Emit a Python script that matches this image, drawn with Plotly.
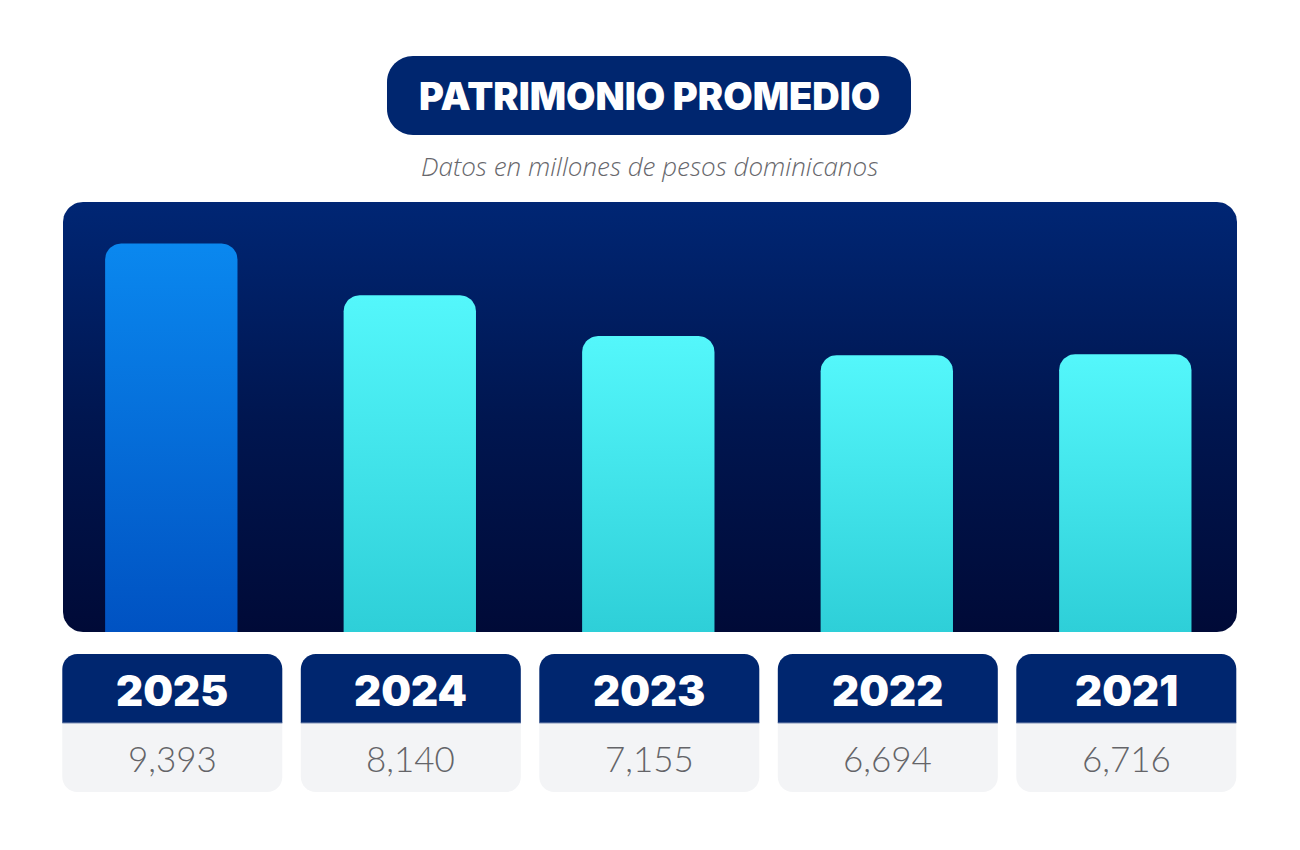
import numpy as np
import plotly.graph_objects as go

# ---------------- data ----------------
years = ["2025", "2024", "2023", "2022", "2021"]
values = [9393, 8140, 7155, 6694, 6716]
value_labels = ["9,393", "8,140", "7,155", "6,694", "6,716"]
bar_top_colors = ["#0a88ef", "#54f7fb", "#54f7fb", "#54f7fb", "#54f7fb"]
bar_bottom_colors = ["#0052c2", "#2ecfd8", "#2ecfd8", "#2ecfd8", "#2ecfd8"]
title_text = "PATRIMONIO PROMEDIO"
subtitle_text = "Datos en millones de pesos dominicanos"

# ---------------- layout constants (pixels) ----------------
W, H = 1300, 850
PL, PR, PT, PB = 63, 1237, 202, 632      # panel box
STEP = 238.5                              # px per category
FIRST_C = 171.3                           # px centre of first category
BAR_W = 0.555                             # bar width in category units
BAR_R = 16                                # bar corner radius px
YMAX = 9393 * (PB - PT) / (PB - 243.5)    # value axis top

xmin = -(FIRST_C - PL) / STEP
xmax = xmin + (PR - PL) / STEP

NAVY = "#00266f"


def rounded_path_xy(x0, x1, y0, y1, rx, ry, top=True, bottom=True, n=12):
    """Return x, y lists for a rectangle with rounded corners (y up)."""
    xs, ys = [], []
    def arc(cx, cy, a0, a1):
        t = np.linspace(a0, a1, n)
        xs.extend(cx + rx * np.cos(t))
        ys.extend(cy + ry * np.sin(t))
    if bottom:
        arc(x0 + rx, y0 + ry, np.pi, 1.5 * np.pi)
        arc(x1 - rx, y0 + ry, 1.5 * np.pi, 2 * np.pi)
    else:
        xs.append(x0); ys.append(y0)
        xs.append(x1); ys.append(y0)
    if top:
        arc(x1 - rx, y1 - ry, 0, 0.5 * np.pi)
        arc(x0 + rx, y1 - ry, 0.5 * np.pi, np.pi)
    else:
        xs.append(x1); ys.append(y1)
        xs.append(x0); ys.append(y1)
    xs.append(xs[0]); ys.append(ys[0])
    return list(xs), list(ys)


def svg_round_rect(x0, y0, x1, y1, r, top=True, bottom=True):
    """SVG path in paper coords (input in px, y down)."""
    def P(x, y):
        return f"{x / W:.5f},{1 - y / H:.5f}"
    rt = r if top else 0
    rb = r if bottom else 0
    k = 0.5523
    path = f"M{P(x0 + rt, y0)} L{P(x1 - rt, y0)} "
    if rt:
        path += f"C{P(x1 - rt + k * rt, y0)} {P(x1, y0 + rt - k * rt)} {P(x1, y0 + rt)} "
    path += f"L{P(x1, y1 - rb)} "
    if rb:
        path += f"C{P(x1, y1 - rb + k * rb)} {P(x1 - rb + k * rb, y1)} {P(x1 - rb, y1)} "
    path += f"L{P(x0 + rb, y1)} "
    if rb:
        path += f"C{P(x0 + rb - k * rb, y1)} {P(x0, y1 - rb + k * rb)} {P(x0, y1 - rb)} "
    path += f"L{P(x0, y0 + rt)} "
    if rt:
        path += f"C{P(x0, y0 + rt - k * rt)} {P(x0 + rt - k * rt, y0)} {P(x0 + rt, y0)} "
    path += "Z"
    return path


fig = go.Figure()

# ---- panel background (pixel axes x/y, y up) ----
px_, py_ = rounded_path_xy(PL, PR, H - PB, H - PT, 20, 20)
fig.add_trace(go.Scatter(
    x=px_, y=py_, mode="lines", fill="toself", line=dict(width=0),
    fillgradient=dict(type="vertical",
                      colorscale=[[0, "#000a37"], [0.5, "#001650"], [1, "#002674"]]),
    hoverinfo="skip", showlegend=False, xaxis="x", yaxis="y"))

# ---- bars (category axis x2 / value axis y2) ----
rx = BAR_R / STEP
ry = BAR_R * YMAX / (PB - PT)
for i, (yr, v) in enumerate(zip(years, values)):
    bx, by = rounded_path_xy(i - BAR_W / 2, i + BAR_W / 2, 0, v, rx, ry,
                             top=True, bottom=False)
    fig.add_trace(go.Scatter(
        x=bx, y=by, mode="lines", fill="toself", line=dict(width=0),
        fillgradient=dict(type="vertical",
                          colorscale=[[0, bar_bottom_colors[i]], [1, bar_top_colors[i]]]),
        hoverinfo="skip", showlegend=False, xaxis="x2", yaxis="y2", name=yr))

shapes = []
annotations = []


def ann(x, y, text, font):
    return dict(x=x / W, y=1 - y / H, xref="paper", yref="paper", text=text,
                showarrow=False, xanchor="center", yanchor="middle", font=font)


# ---- title pill ----
shapes.append(dict(type="path", xref="paper", yref="paper",
                   path=svg_round_rect(387, 56, 911, 135, 26),
                   fillcolor=NAVY, line=dict(width=0), layer="above"))
annotations.append(ann(649, 96, title_text,
                       dict(family="Inter", size=38, color="white", weight=900)))
annotations.append(ann(649, 166, f"<i>{subtitle_text}</i>",
                       dict(family="Open Sans", size=26, color="#67676c", weight=300)))

# ---- cards under each category ----
CARD_W = 220
for i, (yr, lab) in enumerate(zip(years, value_labels)):
    cx = PL + (i - xmin) * STEP + 1
    x0, x1 = cx - CARD_W / 2, cx + CARD_W / 2
    shapes.append(dict(type="path", xref="paper", yref="paper",
                       path=svg_round_rect(x0, 723, x1, 792, 15, top=False),
                       fillcolor="#f3f4f6", line=dict(width=0), layer="above"))
    shapes.append(dict(type="path", xref="paper", yref="paper",
                       path=svg_round_rect(x0, 654, x1, 723, 15, bottom=False),
                       fillcolor=NAVY, line=dict(width=0), layer="above"))
    shapes.append(dict(type="line", xref="paper", yref="paper",
                       x0=x0 / W, x1=x1 / W, y0=1 - 723 / H, y1=1 - 723 / H,
                       line=dict(color="#7f8fb5", width=1), layer="above"))
    annotations.append(ann(cx, 690, yr,
                           dict(family="Inter", size=42, color="white", weight=900)))
    annotations.append(ann(cx, 758, lab,
                           dict(family="Lato", size=35, color="#646468", weight=300)))

fig.update_layout(
    width=W, height=H,
    margin=dict(l=0, r=0, t=0, b=0),
    paper_bgcolor="white", plot_bgcolor="rgba(0,0,0,0)",
    showlegend=False,
    xaxis=dict(domain=[0, 1], range=[0, W], visible=False, fixedrange=True),
    yaxis=dict(domain=[0, 1], range=[0, H], visible=False, fixedrange=True),
    xaxis2=dict(domain=[PL / W, PR / W], range=[xmin, xmax], visible=False,
                anchor="y2", fixedrange=True),
    yaxis2=dict(domain=[1 - PB / H, 1 - PT / H], range=[0, YMAX], visible=False,
                anchor="x2", fixedrange=True),
    shapes=shapes,
    annotations=annotations,
)

fig.write_html("out.html", config=dict(displayModeBar=False),
               post_script="document.body.style.margin='0';")
